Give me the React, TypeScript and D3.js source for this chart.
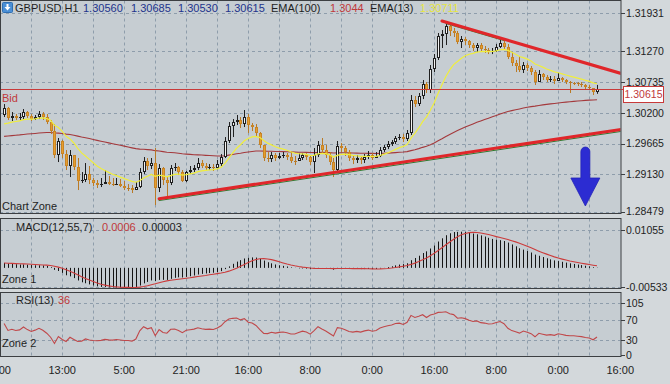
import React, { useEffect } from 'react';
import * as d3 from 'd3';

// ---------- data ----------
const symbolLabel = 'GBPUSD,H1';
const headerOHLC = ['1.30560', '1.30685', '1.30530', '1.30615'];
const headerEma100 = '1.3044';
const headerEma13 = '1.30711';
const headerMacd = ['0.0006', '0.00003'];
const headerRsi = '36';
const bidPrice = 1.30615;

const firstOpen = 1.30161;
const closes = [
  1.30283, 1.30109, 1.30144, 1.30109, 1.30126, 1.30213, 1.30144, 1.30091, 1.30126, 1.30178,
  1.30126, 1.30039, 1.29883, 1.29465, 1.29709, 1.29482, 1.29274, 1.29465, 1.29256, 1.29013,
  1.2903, 1.29134, 1.2903, 1.28978, 1.28943, 1.2896, 1.28995, 1.2896, 1.28943, 1.2896,
  1.28926, 1.28891, 1.28891, 1.28856, 1.28908, 1.29169, 1.29361, 1.29274, 1.29326, 1.28891,
  1.29239, 1.2903, 1.28978, 1.29239, 1.29256, 1.29169, 1.29013, 1.29169, 1.29204, 1.29239,
  1.29326, 1.29274, 1.29239, 1.29256, 1.29239, 1.29308, 1.2943, 1.29709, 1.2997, 1.30039,
  1.30074, 1.30004, 1.30126, 1.29987, 1.29952, 1.29848, 1.29639, 1.29413, 1.29395, 1.29465,
  1.29413, 1.29448, 1.29465, 1.2943, 1.29361, 1.29361, 1.29413, 1.29465, 1.2943, 1.29343,
  1.29465, 1.29639, 1.29552, 1.29465, 1.29343, 1.29204, 1.29622, 1.29587, 1.29517, 1.29413,
  1.29378, 1.29413, 1.29378, 1.2943, 1.29465, 1.29413, 1.29448, 1.29552, 1.29604, 1.29656,
  1.29691, 1.29761, 1.29778, 1.29743, 1.29848, 1.30422, 1.30352, 1.30492, 1.307, 1.30596,
  1.30962, 1.31153, 1.31536, 1.3157, 1.3171, 1.31623, 1.31588, 1.31431, 1.31483, 1.31449,
  1.31379, 1.31327, 1.31379, 1.31309, 1.31292, 1.31257, 1.31275, 1.31344, 1.31414, 1.31344,
  1.3117, 1.31066, 1.31014, 1.30944, 1.31031, 1.30979, 1.30909, 1.30735, 1.30874, 1.30822,
  1.3077, 1.30787, 1.30753, 1.30805, 1.3077, 1.30735, 1.30718, 1.30718, 1.307, 1.30683,
  1.30648, 1.30631, 1.3056, 1.30615,
];
const highs = [
  1.30352, 1.303, 1.30213, 1.30178, 1.30196, 1.30265, 1.30231, 1.30178, 1.30161, 1.30231,
  1.30213, 1.30178, 1.30074, 1.30004, 1.29761, 1.29726, 1.29552, 1.29552, 1.29465, 1.29413,
  1.29169, 1.29326, 1.29274, 1.29065, 1.2903, 1.29065, 1.29204, 1.291, 1.29065, 1.29065,
  1.29047, 1.29013, 1.2896, 1.28943, 1.28995, 1.29239, 1.2943, 1.29413, 1.29413, 1.29587,
  1.29308, 1.29256, 1.291, 1.29291, 1.29326, 1.29274, 1.29204, 1.29187, 1.29274, 1.29291,
  1.29413, 1.29378, 1.29326, 1.29308, 1.29308, 1.29378, 1.29482, 1.29778, 1.30039, 1.30091,
  1.30161, 1.30126, 1.30248, 1.30178, 1.30022, 1.30004, 1.29865, 1.29639, 1.29517, 1.29517,
  1.295, 1.295, 1.29517, 1.295, 1.29517, 1.29448, 1.295, 1.295, 1.295, 1.29465,
  1.29587, 1.29709, 1.29761, 1.29639, 1.29517, 1.29413, 1.29709, 1.29674, 1.29622, 1.29552,
  1.29465, 1.29465, 1.2943, 1.29482, 1.29535, 1.295, 1.29517, 1.29604, 1.29639, 1.29709,
  1.29726, 1.29796, 1.2983, 1.2983, 1.299, 1.30509, 1.30492, 1.30544, 1.3077, 1.30735,
  1.31031, 1.31222, 1.31588, 1.3164, 1.31797, 1.31727, 1.31675, 1.31623, 1.31536, 1.31518,
  1.31466, 1.31414, 1.31414, 1.31414, 1.31362, 1.31327, 1.31327, 1.31396, 1.31466, 1.31466,
  1.31396, 1.31257, 1.31118, 1.31188, 1.31083, 1.31066, 1.31014, 1.30944, 1.30944, 1.30892,
  1.30857, 1.3084, 1.3084, 1.30892, 1.30822, 1.30787, 1.30753, 1.30735, 1.30735, 1.30735,
  1.307, 1.30683, 1.30613, 1.30685,
];
const lows = [
  1.30126, 1.30074, 1.30057, 1.30074, 1.30057, 1.30074, 1.30109, 1.30057, 1.30074, 1.30091,
  1.30074, 1.30004, 1.2983, 1.29413, 1.29343, 1.29413, 1.29204, 1.29082, 1.29204, 1.28856,
  1.28978, 1.28995, 1.2896, 1.28926, 1.28891, 1.28908, 1.2896, 1.28943, 1.28926, 1.28943,
  1.28908, 1.28856, 1.28839, 1.28804, 1.28856, 1.28891, 1.29134, 1.29204, 1.29221, 1.28595,
  1.28821, 1.28943, 1.28734, 1.28943, 1.29187, 1.29117, 1.28995, 1.28995, 1.29134, 1.29169,
  1.29204, 1.29239, 1.29204, 1.29204, 1.29187, 1.29221, 1.29274, 1.29413, 1.29674, 1.29778,
  1.29987, 1.29935, 1.29952, 1.29848, 1.29883, 1.29796, 1.29587, 1.29361, 1.29343, 1.29343,
  1.29361, 1.29395, 1.29413, 1.29378, 1.29326, 1.29291, 1.29361, 1.29378, 1.29378, 1.29291,
  1.29152, 1.2943, 1.295, 1.29413, 1.29291, 1.29082, 1.29169, 1.29517, 1.29448, 1.29361,
  1.29308, 1.29326, 1.29308, 1.29326, 1.29395, 1.29378, 1.29413, 1.2943, 1.29517, 1.29569,
  1.29622, 1.29656, 1.29726, 1.29691, 1.29709, 1.29813, 1.303, 1.30318, 1.30439, 1.30544,
  1.30544, 1.30909, 1.31118, 1.31327, 1.31379, 1.31536, 1.31518, 1.31396, 1.31327, 1.31379,
  1.31327, 1.31275, 1.31257, 1.31275, 1.3124, 1.31222, 1.31222, 1.31257, 1.31327, 1.31309,
  1.31135, 1.31014, 1.30909, 1.30909, 1.30892, 1.30927, 1.30857, 1.30683, 1.30805, 1.3077,
  1.30735, 1.30735, 1.307, 1.30753, 1.30735, 1.307, 1.30544, 1.30683, 1.30666, 1.30648,
  1.30613, 1.30596, 1.30509, 1.3053,
];

// indicator values just before the first visible bar
const ema13Seed = 1.2996;
const ema100Seed = 1.2978;
const ema12Seed = 1.3018;
const ema55Seed = 1.3005;
const rsiSeedGain = 0.00025;
const rsiSeedLoss = 0.0002;

const priceTicks = [1.31931, 1.3127, 1.30735, 1.302, 1.29665, 1.2913, 1.28479];
const macdTicks = [0.01055, -0.00533];
const rsiTicks = [105, 70, 30, 0];
const rsiLevels = [105, 70, 30];
const timeLabels = ['0:00', '13:00', '5:00', '21:00', '16:00', '8:00', '0:00', '16:00', '8:00', '0:00', '16:00'];
const timeLabelBars = [-1, 15, 31, 47, 63, 79, 95, 111, 127, 143, 159];
const gridBars = [7, 15, 23, 31, 39, 47, 55, 63, 71, 79, 87, 95, 103, 111, 119, 127, 135, 143, 151];

const trendLines = [
  { a: [40, 1.28673], b: [153, 1.29813], color: '#2f7a2f', w: 1, ray: true },
  { a: [40, 1.28706], b: [153, 1.29848], color: '#e0262a', w: 3, ray: true },
  { a: [114, 1.31753], b: [129, 1.31457], color: '#2f7a2f', w: 1, ray: false },
  { a: [113, 1.31797], b: [153, 1.31007], color: '#e0262a', w: 3, ray: true },
];
const arrowObj = { bar: 150, top: 1.29604, tip: 1.28578 };

// ---------- style ----------
const FONT = "'Liberation Sans', Arial, 'DejaVu Sans', sans-serif";
const PANEL_BG = '#c6cdd2';
const OUTER_BG = '#d3d8db';
const GRID = '#8e9dab';
const FRAME = '#3c3f42';

export default function App() {
  useEffect(() => {
    document.body.style.margin = '0';
  }, []);
  const W = 670;
  const H = 384;
  const N = closes.length;
  const R = 621;
  const x = d3.scaleLinear().domain([0, N - 1]).range([4.1, 597]);
  const yP = d3.scaleLinear().domain([1.28479, 1.31931]).range([211.7, 13.3]);
  const yM = d3.scaleLinear().domain([-0.00533, 0.01055]).range([287, 230]);
  const yR = d3.scaleLinear().domain([0, 105]).range([355, 303]);

  const opens = closes.map((c, i) => (i === 0 ? firstOpen : closes[i - 1]));
  const ema = (period: number, seed: number) => {
    const k = 2 / (period + 1);
    let e = seed;
    return closes.map((c) => (e = e + k * (c - e)));
  };
  const ema13 = ema(13, ema13Seed);
  const ema100 = ema(100, ema100Seed);
  const e12 = ema(12, ema12Seed);
  const e55 = ema(55, ema55Seed);
  const macd = e12.map((v, i) => v - e55[i]);
  const signal = macd.map((_, i) => d3.mean(macd.slice(Math.max(0, i - 6), i + 1)) as number);
  let g = rsiSeedGain;
  let l = rsiSeedLoss;
  const rsi = closes.map((c, i) => {
    const d = c - opens[i];
    g = (g * 12 + Math.max(d, 0)) / 13;
    l = (l * 12 + Math.max(-d, 0)) / 13;
    return 100 - 100 / (1 + g / l);
  });

  const mkLine = (vals: number[], ys: (v: number) => number) =>
    d3.line<number>().x((_, i) => x(i)).y((v) => ys(v)).curve(d3.curveLinear)(vals) || '';

  const px = (v: number) => Math.round(v) + 0.5;

  const panels = [
    { top: 0.5, bottom: 213.5, id: 'cm' },
    { top: 218.5, bottom: 288.5, id: 'cmacd' },
    { top: 292.5, bottom: 356.5, id: 'crsi' },
  ];

  const vGrid = (p: { top: number; bottom: number }, key: string) =>
    gridBars.map((b) => (
      <line key={key + b} x1={px(x(b))} x2={px(x(b))} y1={p.top} y2={p.bottom} stroke={GRID} strokeDasharray="3,3" strokeWidth={1} />
    ));

  const candles = closes.map((c, i) => {
    const o = opens[i];
    const hi = Math.max(highs[i], o, c);
    const lo = Math.min(lows[i], o, c);
    const bull = c > o;
    const cx = Math.round(x(i));
    const yt = yP(Math.max(o, c));
    const yb = yP(Math.min(o, c));
    const bodyTop = Math.round(yt);
    const bodyH = Math.max(1, Math.round(yb) - bodyTop);
    const wick = bull ? '#1f1f1f' : '#b97a26';
    return (
      <g key={'c' + i}>
        <line x1={cx + 0.5} x2={cx + 0.5} y1={yP(hi)} y2={yP(lo)} stroke={wick} strokeWidth={1} />
        {bodyH <= 1 ? (
          <line x1={cx - 1} x2={cx + 2} y1={bodyTop + 0.5} y2={bodyTop + 0.5} stroke={wick} strokeWidth={1} />
        ) : (
          <rect x={cx - 0.5} y={bodyTop + 0.5} width={2} height={bodyH - 1 > 0 ? bodyH - 1 : 0.5}
            fill={bull ? '#f2f2f2' : '#e59e30'} stroke={bull ? '#1f1f1f' : '#c98424'} strokeWidth={1} />
        )}
      </g>
    );
  });

  const trendPath = (t: typeof trendLines[number]) => {
    const [i1, p1] = t.a;
    const [i2, p2] = t.b;
    const slope = (p2 - p1) / (i2 - i1);
    const iEnd = t.ray ? x.invert(R) : i2;
    return { x1: x(i1), y1: yP(p1), x2: x(iEnd), y2: yP(p1 + slope * (iEnd - i1)) };
  };

  const ax = x(arrowObj.bar);
  const aTop = yP(arrowObj.top);
  const aTip = yP(arrowObj.tip);
  const headY = aTip - 28;
  const arrowPath = `M${ax - 4.5},${headY} L${ax - 4.5},${aTop + 4.5} A4.5,4.5 0 0 1 ${ax + 4.5},${aTop + 4.5} L${ax + 4.5},${headY} L${ax + 14.5},${headY} L${ax},${aTip} L${ax - 14.5},${headY} Z`;

  const yBid = px(yP(bidPrice));
  const txt = { fontFamily: FONT } as const;
  const FS = 11;

  return (
    <svg width={W} height={H} style={{ position: 'absolute', left: 0, top: 0, display: 'block' }} xmlns="http://www.w3.org/2000/svg">
      <defs>
        {panels.map((p) => (
          <clipPath id={p.id} key={p.id}>
            <rect x={1} y={p.top + 0.5} width={R - 1.5} height={p.bottom - p.top - 1} />
          </clipPath>
        ))}
      </defs>
      <rect x={0} y={0} width={W} height={H} fill={OUTER_BG} />
      {panels.map((p) => (
        <rect key={'bg' + p.id} x={0.5} y={p.top} width={R - 0.5} height={p.bottom - p.top} fill={PANEL_BG} />
      ))}

      {/* ---------- main panel ---------- */}
      <g clipPath="url(#cm)">
        {vGrid(panels[0], 'gm')}
        {priceTicks.map((t) => (
          <line key={'hp' + t} x1={0} x2={R} y1={px(yP(t))} y2={px(yP(t))} stroke={GRID} strokeDasharray="3,3" />
        ))}
        <path d={mkLine(ema100, yP)} fill="none" stroke="#a4393c" strokeWidth={1.1} />
        {candles}
        <path d={mkLine(ema13, yP)} fill="none" stroke="#f0ee3c" strokeWidth={1.2} />
        <line x1={0} x2={R} y1={yBid} y2={yBid} stroke="#c83a3a" strokeWidth={1} />
        {trendLines.map((t, k) => {
          const s = trendPath(t);
          return <line key={'t' + k} {...s} stroke={t.color} strokeWidth={t.w} strokeLinecap="round" />;
        })}
        <path d={arrowPath} fill="#2c2cd2" stroke="#2424b8" strokeWidth={0.8} />
      </g>
      <text x={2} y={101.5} fontSize={FS} fill="#c0393b" style={txt}>Bid</text>
      <text x={2} y={210} fontSize={FS} fill="#1e1e1e" style={txt}>Chart Zone</text>

      {/* header */}
      <rect x={2.5} y={2.5} width={10} height={10} fill="#4a8fd6" stroke="#2f6fb2" strokeWidth={1} rx={1} />
      <path d="M7.5,10.5 L4.5,7 L6.5,7 L6.5,4 L8.5,4 L8.5,7 L10.5,7 Z" fill="#ffffff" />
      <text x={15} y={11.5} fontSize={FS} fill="#1e1e1e" style={txt}>{symbolLabel}</text>
      {headerOHLC.map((v, k) => (
        <text key={'ho' + k} x={[83, 131, 178, 225][k]} y={11.5} fontSize={FS} fill="#22338c" style={txt}>{v}</text>
      ))}
      <text x={271} y={11.5} fontSize={FS} fill="#1e1e1e" style={txt}>EMA(100)</text>
      <text x={330} y={11.5} fontSize={FS} fill="#c0393b" style={txt}>{headerEma100}</text>
      <text x={370} y={11.5} fontSize={FS} fill="#1e1e1e" style={txt}>EMA(13)</text>
      <text x={420} y={11.5} fontSize={FS} fill="#e6e640" style={txt}>{headerEma13}</text>

      {/* ---------- MACD panel ---------- */}
      <g clipPath="url(#cmacd)">
        {vGrid(panels[1], 'gmacd')}
        {macdTicks.map((t) => (
          <line key={'hm' + t} x1={0} x2={R} y1={px(yM(t))} y2={px(yM(t))} stroke={GRID} strokeDasharray="3,3" />
        ))}
        {macd.map((v, i) => (
          <line key={'mh' + i} x1={px(x(i))} x2={px(x(i))} y1={yM(0)} y2={yM(v)} stroke="#151515" strokeWidth={1} />
        ))}
        <path d={mkLine(signal, yM)} fill="none" stroke="#cc3b3b" strokeWidth={1.1} />
      </g>
      <text x={16} y={230.5} fontSize={FS} fill="#1e1e1e" style={txt}>MACD(12,55,7)</text>
      <text x={102} y={230.5} fontSize={FS} fill="#c0393b" style={txt}>{headerMacd[0]}</text>
      <text x={142} y={230.5} fontSize={FS} fill="#1e1e1e" style={txt}>{headerMacd[1]}</text>
      <text x={2} y={283} fontSize={FS} fill="#1e1e1e" style={txt}>Zone 1</text>

      {/* ---------- RSI panel ---------- */}
      <g clipPath="url(#crsi)">
        {vGrid(panels[2], 'grsi')}
        {rsiLevels.map((t) => (
          <line key={'hr' + t} x1={0} x2={R} y1={px(yR(t))} y2={px(yR(t))} stroke={GRID} strokeDasharray="3,3" />
        ))}
        <path d={mkLine(rsi, yR)} fill="none" stroke="#c0484a" strokeWidth={1.1} />
      </g>
      <text x={16} y={304} fontSize={FS} fill="#1e1e1e" style={txt}>RSI(13)</text>
      <text x={58} y={304} fontSize={FS} fill="#c0393b" style={txt}>{headerRsi}</text>
      <text x={2} y={347} fontSize={FS} fill="#1e1e1e" style={txt}>Zone 2</text>

      {/* frames */}
      {panels.map((p) => (
        <rect key={'fr' + p.id} x={0.5} y={p.top} width={R - 0.5} height={p.bottom - p.top} fill="none" stroke={FRAME} strokeWidth={1} />
      ))}

      {/* right axes */}
      {priceTicks.map((t) => (
        <g key={'pt' + t}>
          <line x1={R} x2={R + 4} y1={px(yP(t))} y2={px(yP(t))} stroke={FRAME} />
          <text x={R + 5} y={yP(t)} dy="0.36em" fontSize={10.5} fill="#1e1e1e" style={txt}>{t.toFixed(5)}</text>
        </g>
      ))}
      <line x1={R} x2={R + 2} y1={yBid} y2={yBid} stroke="#c83a3a" />
      <rect x={623.5} y={yBid - 3} width={40} height={16} fill="#ffffff" stroke="#c83a3a" strokeWidth={1} />
      <text x={643.5} y={yBid + 5} dy="0.36em" textAnchor="middle" fontSize={10.5} fill="#c0393b" style={txt}>{bidPrice.toFixed(5)}</text>

      {macdTicks.map((t) => (
        <g key={'mt' + t}>
          <line x1={R} x2={R + 4} y1={px(yM(t))} y2={px(yM(t))} stroke={FRAME} />
          <text x={R + 5} y={yM(t)} dy="0.36em" fontSize={10.5} fill="#1e1e1e" style={txt}>{t.toFixed(5)}</text>
        </g>
      ))}
      {rsiTicks.map((t) => (
        <g key={'rt' + t}>
          <line x1={R} x2={R + 4} y1={px(yR(t))} y2={px(yR(t))} stroke={FRAME} />
          <text x={R + 5} y={yR(t)} dy="0.36em" fontSize={10.5} fill="#1e1e1e" style={txt}>{t}</text>
        </g>
      ))}

      {/* time axis */}
      {timeLabels.map((lab, k) => (
        <text key={'tl' + k} x={x(timeLabelBars[k])} y={374} textAnchor="middle" fontSize={FS} fill="#1e1e1e" style={txt}>{lab}</text>
      ))}
    </svg>
  );
}
